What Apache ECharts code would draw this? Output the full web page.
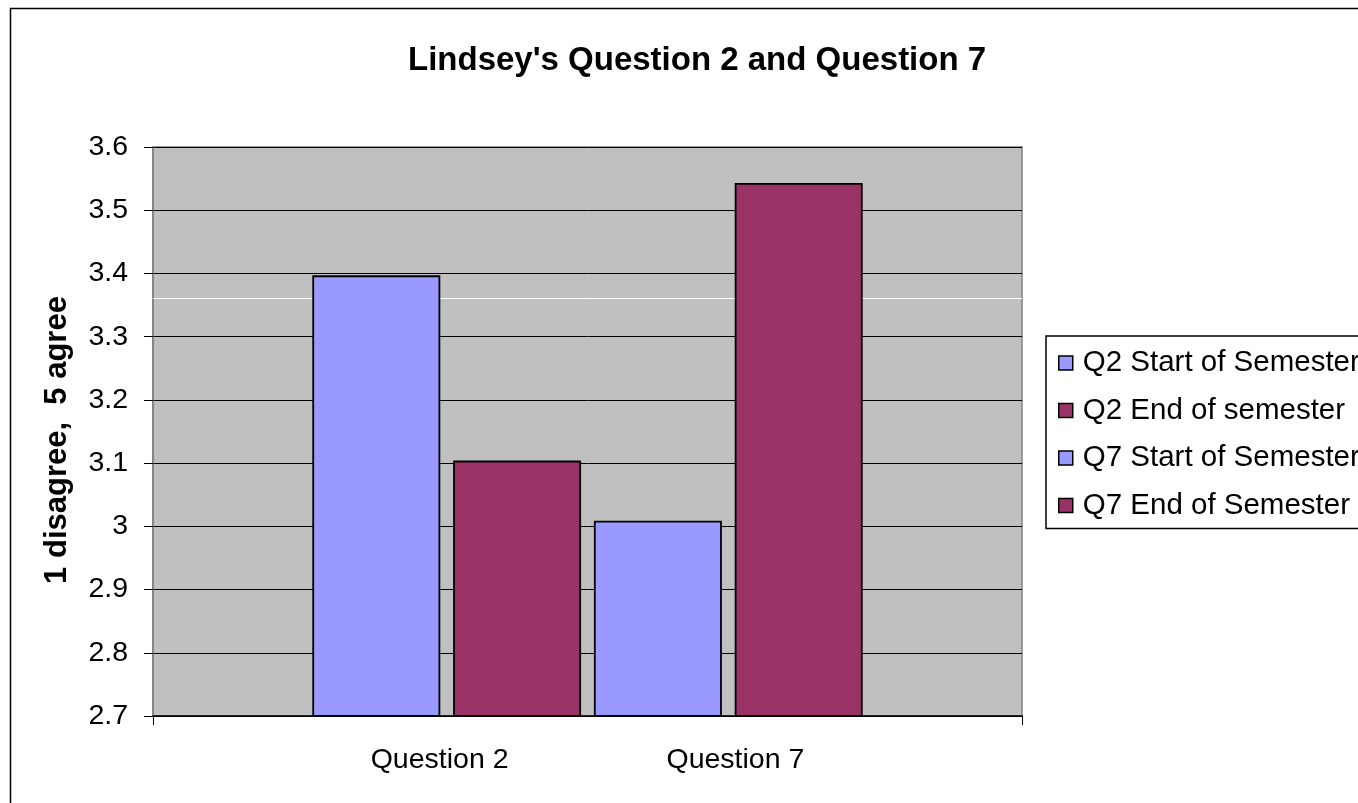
<!DOCTYPE html>
<html>
<head>
<meta charset="utf-8">
<script src="https://cdn.jsdelivr.net/npm/echarts@6/dist/echarts.min.js"></script>
<style>
  html, body { margin: 0; padding: 0; background: #ffffff; }
  #chart { width: 1358px; height: 803px; }
</style>
</head>
<body>
<div id="chart"></div>
<script>
// ---- data ----
const titleText = "Lindsey's Question 2 and Question 7";
const yAxisTitle = "1 disagree,  5 agree";
const groupLabels = ["Question 2", "Question 7"];
const seriesNames = ["Q2 Start of Semester", "Q2 End of semester", "Q7 Start of Semester", "Q7 End of Semester"];
const seriesValues = [3.397, 3.104, 3.009, 3.543];
const seriesColors = ["#9999FF", "#993366", "#9999FF", "#993366"];
const yMin = 2.7, yMax = 3.6, yStep = 0.1;
const whiteLineValue = 3.358;

const chart = echarts.init(document.getElementById('chart'), null, { renderer: 'canvas' });

const FONT = 'Liberation Sans, Arial, sans-serif';

const bars = seriesNames.map((name, i) => ({
  name: name,
  type: 'bar',
  data: [seriesValues[i]],
  barWidth: 128,
  barGap: '10%',
  z: 3,
  itemStyle: { color: seriesColors[i], borderColor: '#000000', borderWidth: 1.8 }
}));

const lineSeries = {
  name: '_white',
  type: 'line',
  data: [],
  z: 1,
  silent: true,
  markLine: {
    z: 1,
    silent: true,
    symbol: ['none', 'none'],
    label: { show: false },
    lineStyle: { color: '#ffffff', width: 1, type: 'solid' },
    data: [{ yAxis: whiteLineValue }]
  }
};

chart.setOption({
  animation: false,
  backgroundColor: '#ffffff',
  textStyle: { fontFamily: FONT },
  title: {
    text: titleText,
    left: 403,
    top: 39,
    textStyle: { fontSize: 33, fontWeight: 'bold', color: '#000000', fontFamily: FONT }
  },
  graphic: [
    {
      type: 'rect',
      left: 8, top: 6,
      shape: { width: 1400, height: 850 },
      style: { fill: 'none', stroke: '#000000', lineWidth: 1.5 },
      z: 0
    },
    {
      type: 'text',
      x: 57, y: 440,
      rotation: Math.PI / 2,
      style: {
        text: yAxisTitle,
        fontSize: 31,
        fontWeight: 'bold',
        fontFamily: FONT,
        fill: '#000000',
        align: 'center',
        verticalAlign: 'middle'
      }
    }
  ],
  legend: {
    data: seriesNames,
    orient: 'vertical',
    left: 1046,
    top: 336,
    padding: [12, 12, 8, 12],
    itemGap: 17.5,
    itemWidth: 14,
    itemHeight: 14,
    icon: 'rect',
    borderColor: '#000000',
    borderWidth: 1.5,
    backgroundColor: '#ffffff',
    itemStyle: { borderColor: '#000000', borderWidth: 1.5 },
    textStyle: { fontSize: 29.5, color: '#000000', padding: [0, 0, 0, 5], fontFamily: FONT }
  },
  grid: {
    left: 153, right: 336, top: 147, bottom: 87,
    show: true,
    backgroundColor: '#C0C0C0',
    borderColor: '#808080',
    borderWidth: 1.5
  },
  xAxis: {
    type: 'category',
    data: [groupLabels.join(' ')],
    boundaryGap: true,
    axisLine: { show: true, lineStyle: { color: '#000000', width: 1.5 } },
    axisTick: { show: true, length: 9, lineStyle: { color: '#000000', width: 1 } },
    axisLabel: {
      margin: 30,
      formatter: function () {
        return '{a|' + groupLabels[0] + '}{g|}{a|' + groupLabels[1] + '}';
      },
      rich: {
        a: { fontSize: 28.5, color: '#000000', fontFamily: FONT },
        g: { width: 158 }
      }
    },
    splitLine: { show: false }
  },
  yAxis: {
    type: 'value',
    min: yMin, max: yMax, interval: yStep,
    axisLine: { show: true, lineStyle: { color: '#808080', width: 1.5 } },
    axisTick: { show: true, length: 9, lineStyle: { color: '#000000', width: 1 } },
    axisLabel: {
      margin: 25,
      fontSize: 28.5,
      color: '#000000',
      fontFamily: FONT,
      formatter: function (v) { return String(Math.round(v * 10) / 10); }
    },
    splitLine: { show: true, lineStyle: { color: '#000000', width: 1 } }
  },
  series: [lineSeries].concat(bars)
});
</script>
</body>
</html>
